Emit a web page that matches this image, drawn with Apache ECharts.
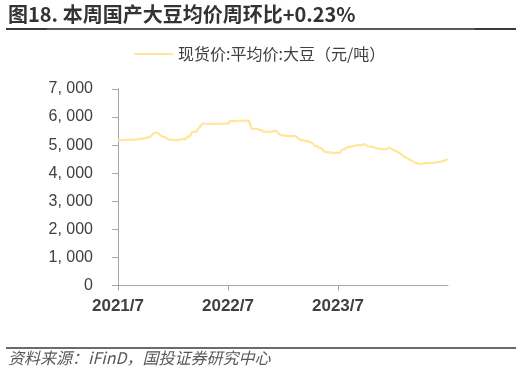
<!DOCTYPE html>
<html>
<head>
<meta charset="utf-8">
<script src="https://cdn.jsdelivr.net/npm/echarts@6/dist/echarts.min.js"></script>
<style>
html,body{margin:0;padding:0;background:#fff;}
#c{width:522px;height:373px;}
</style>
</head>
<body>
<div id="c"></div>
<script>
// Weekly observations, first week of July 2021 to first week of July 2024
const startDate = '2021-07-02';
const tickLabels = ['2021/7', '2022/7', '2023/7'];
const tickIndices = [0, 52, 104];
const seriesName = '现货价:平均价:大豆（元/吨）';
const soyPrice = [
  5167,5167,5190,5190,5190,5190,5190,5200,5200,5200,
  5226,5226,5240,5240,5286,5286,5357,5430,5450,5420,
  5357,5300,5286,5238,5200,5200,5178,5178,5178,5178,
  5214,5214,5214,5310,5310,5476,5476,5476,5595,5680,
  5762,5762,5762,5760,5762,5762,5758,5762,5762,5762,
  5762,5770,5770,5857,5857,5857,5869,5869,5869,5869,
  5872,5872,5869,5583,5583,5583,5583,5536,5536,5476,
  5476,5476,5476,5500,5500,5500,5405,5357,5357,5333,
  5333,5333,5321,5321,5321,5250,5202,5167,5167,5131,
  5131,5100,5071,4976,4976,4905,4905,4810,4750,4750,
  4740,4726,4726,4726,4726,4730,4845,4845,4917,4917,
  4952,4952,4980,5000,5000,5000,5024,5024,4960,4950,
  4940,4940,4880,4880,4857,4857,4857,4857,4905,4880,
  4833,4800,4762,4720,4667,4600,4571,4520,4476,4440,
  4393,4370,4340,4333,4340,4357,4360,4370,4370,4370,
  4375,4390,4400,4420,4440,4470,4490
];

// weekly category dates
const categories = [];
(function(){
  const d0 = new Date(startDate + 'T00:00:00Z');
  for (let i = 0; i < soyPrice.length; i++) {
    const d = new Date(d0.getTime() + i * 7 * 86400000);
    categories.push(d.getUTCFullYear() + '/' + (d.getUTCMonth() + 1) + '/' + d.getUTCDate());
  }
})();

const chart = echarts.init(document.getElementById('c'), null, {renderer: 'canvas'});
const axisColor = '#a6a6a6';
const textColor = '#404040';
chart.setOption({
  animation: false,
  backgroundColor: '#fff',
  grid: {left: 118, right: 74, top: 89, bottom: 87.5, containLabel: false},
  legend: {
    data: [seriesName],
    left: 134, top: 46, padding: 0,
    itemWidth: 39, itemHeight: 18, itemGap: 5,
    icon: 'path://M0,8L39,8L39,10L0,10Z',
    textStyle: {fontFamily: 'Noto Sans CJK SC', fontSize: 16, color: textColor}
  },
  xAxis: {
    type: 'category',
    data: categories,
    boundaryGap: false,
    axisLine: {lineStyle: {color: axisColor, width: 1}},
    axisTick: {
      show: true, length: 5, lineStyle: {color: axisColor},
      interval: function (idx) { return tickIndices.indexOf(idx) >= 0; }
    },
    axisLabel: {
      interval: function (idx) { return tickIndices.indexOf(idx) >= 0; },
      formatter: function (v, idx) {
        const k = tickIndices.indexOf(idx);
        return k >= 0 ? tickLabels[k] : '';
      },
      margin: 12,
      fontFamily: 'Liberation Sans, Arial, sans-serif',
      fontSize: 17, fontWeight: 'bold', color: textColor
    },
    splitLine: {show: false}
  },
  yAxis: {
    type: 'value',
    min: 0, max: 7000, interval: 1000,
    axisLine: {show: true, lineStyle: {color: axisColor, width: 1}},
    axisTick: {show: true, length: 6, lineStyle: {color: axisColor}},
    splitLine: {show: false},
    axisLabel: {
      margin: 25,
      fontFamily: 'Liberation Sans, Arial, sans-serif',
      fontSize: 16, color: textColor,
      formatter: function (v) {
        if (v === 0) return '0';
        const th = Math.floor(v / 1000), r = v % 1000;
        return th + ', ' + String(r).padStart(3, '0');
      }
    }
  },
  series: [{
    name: seriesName,
    type: 'line',
    data: soyPrice,
    symbol: 'none',
    lineStyle: {color: '#FFE699', width: 2.2},
    itemStyle: {color: '#FFE699'}
  }],
  graphic: [
    {type: 'text', left: 8, top: 4,
     style: {text: '图18. 本周国产大豆均价周环比+0.23%', fill: '#333333',
             font: 'bold 20px "Noto Sans CJK SC", sans-serif'}},
    {type: 'line', shape: {x1: 6, y1: 29, x2: 516, y2: 29},
     style: {stroke: '#3a3a3a', lineWidth: 2}},
    {type: 'line', shape: {x1: 47, y1: 29, x2: 475, y2: 29},
     style: {stroke: '#5a5a5a', lineWidth: 2}},
    {type: 'line', shape: {x1: 6, y1: 348, x2: 516, y2: 348},
     style: {stroke: '#3a3a3a', lineWidth: 1.5}},
    {type: 'text', left: 8, top: 350,
     style: {text: '资料来源：iFinD，国投证券研究中心', fill: '#595959',
             font: 'italic 16px "Noto Sans CJK SC", sans-serif'}}
  ]
});
</script>
</body>
</html>
